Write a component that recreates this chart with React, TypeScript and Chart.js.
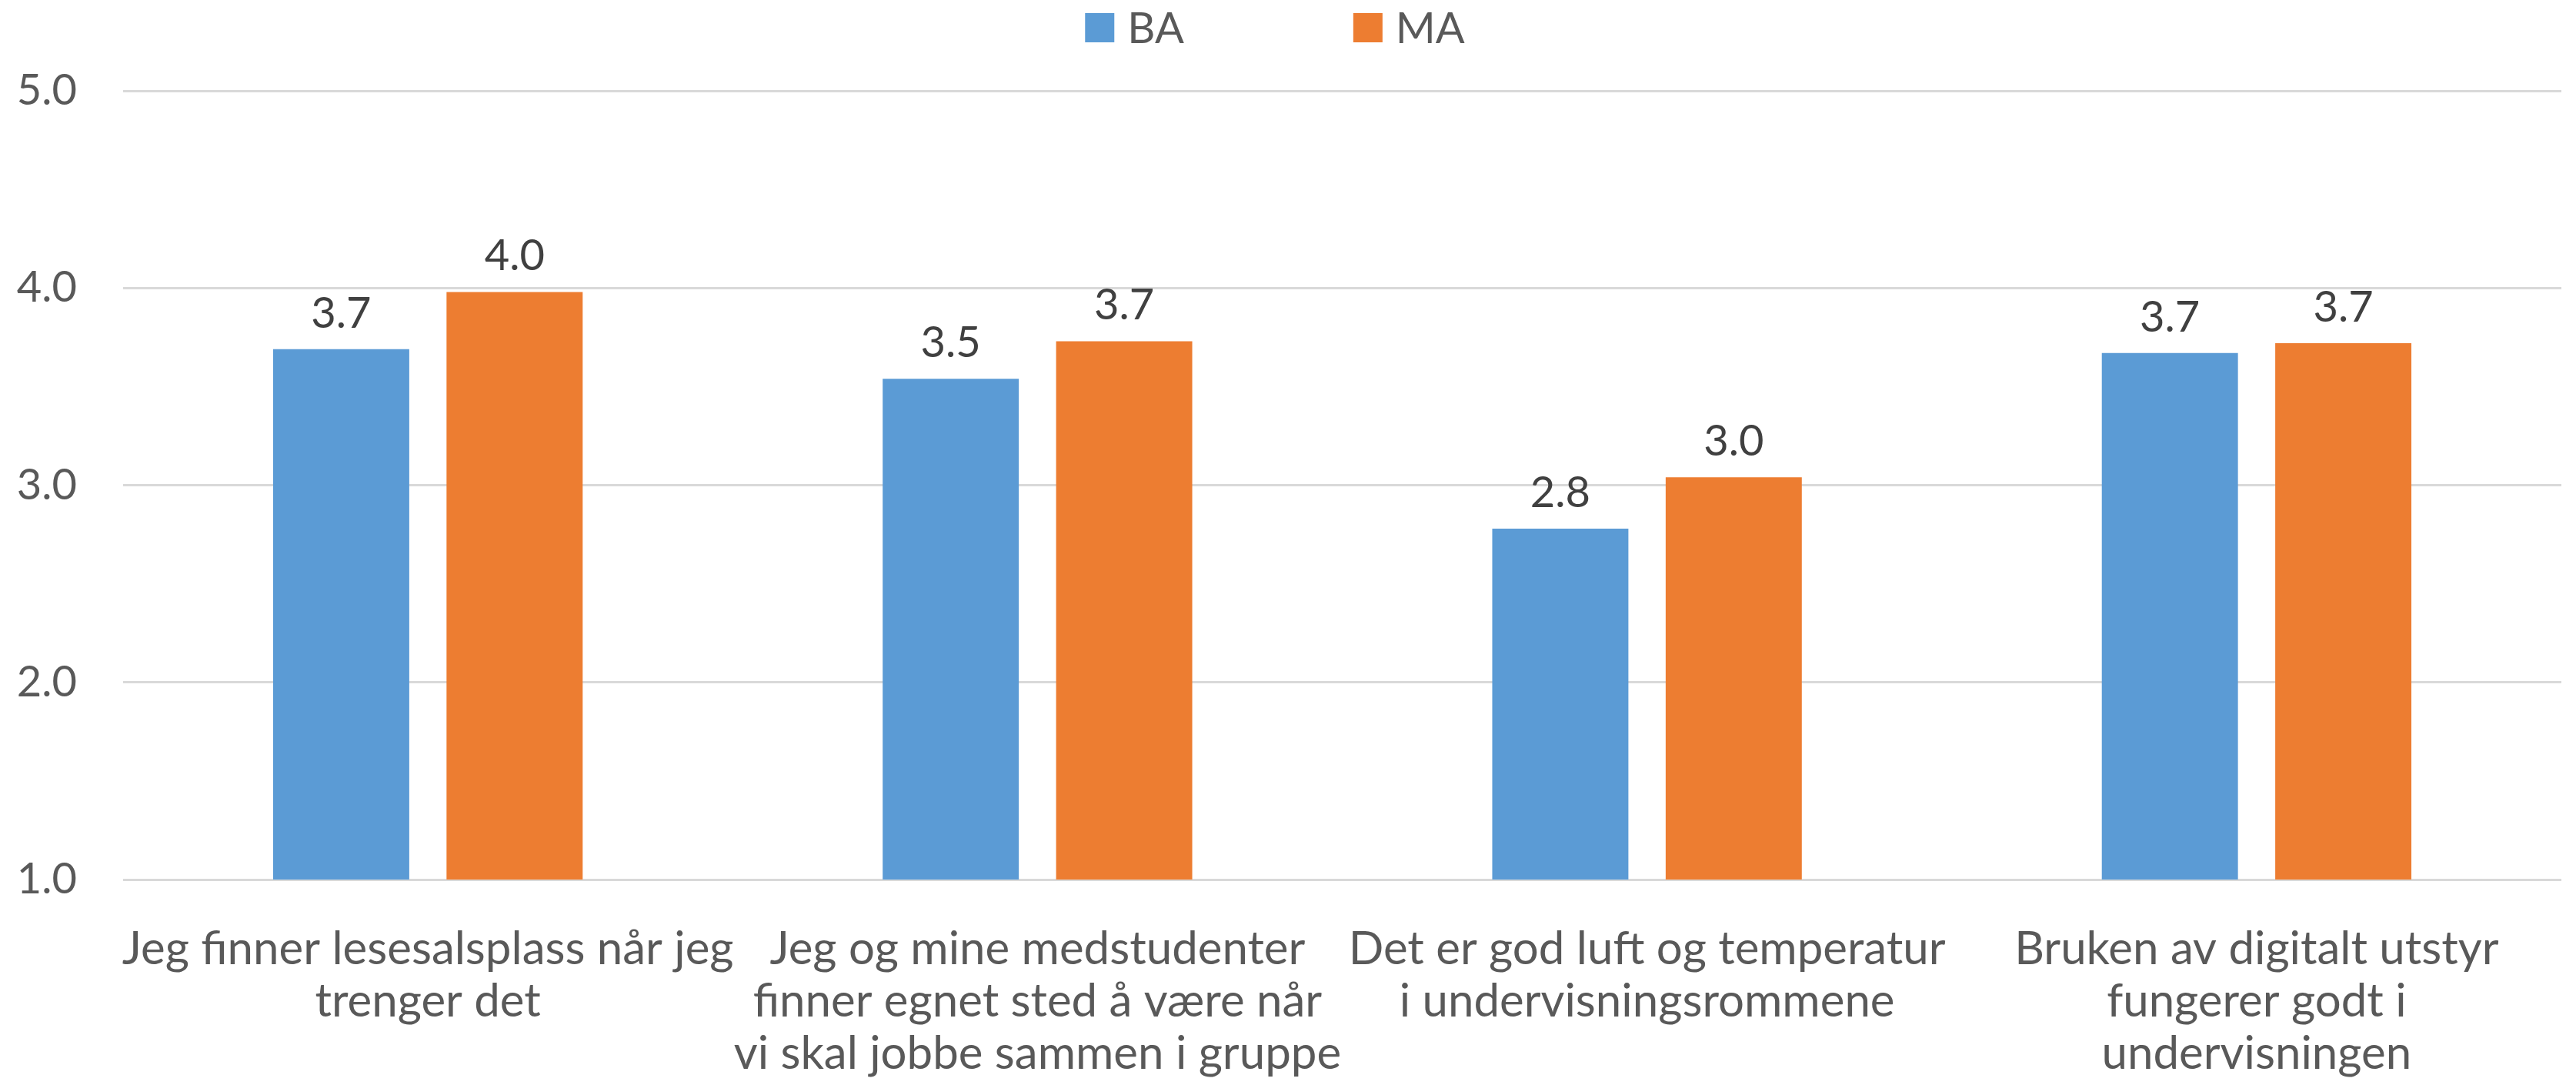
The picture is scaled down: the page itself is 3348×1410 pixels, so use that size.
import React, { useEffect, useRef } from "react";
import { Chart, registerables } from "chart.js";

Chart.register(...registerables);

const categories: string[][] = [
  ["Jeg finner lesesalsplass når jeg", "trenger det"],
  ["Jeg og mine medstudenter", "finner egnet sted å være når", "vi skal jobbe sammen i gruppe"],
  ["Det er god luft og temperatur", "i undervisningsrommene"],
  ["Bruken av digitalt utstyr", "fungerer godt i", "undervisningen"],
];
const seriesNames = ["BA", "MA"];
const baValues = [3.69, 3.54, 2.78, 3.67];
const maValues = [3.98, 3.73, 3.04, 3.72];
const yMin = 1;
const yMax = 5;
const yStep = 1;

const FONT = "Lato, 'Open Sans', sans-serif";
const BLUE = "#5B9BD5";
const ORANGE = "#ED7D31";

const valueLabels = {
  id: "valueLabels",
  afterDatasetsDraw(chart: any) {
    const ctx = chart.ctx;
    ctx.save();
    ctx.font = `56px ${FONT}`;
    ctx.fillStyle = "#404040";
    ctx.textAlign = "center";
    ctx.textBaseline = "alphabetic";
    chart.data.datasets.forEach((ds: any, i: number) => {
      const meta = chart.getDatasetMeta(i);
      meta.data.forEach((bar: any, j: number) => {
        ctx.fillText(Number(ds.data[j]).toFixed(1), bar.x, bar.y - 28);
      });
    });
    ctx.restore();
  },
};

const topLegend = {
  id: "topLegend",
  afterDraw(chart: any) {
    const ctx = chart.ctx;
    ctx.save();
    ctx.font = `56px ${FONT}`;
    const box = 38;
    const boxGap = 17;
    const itemGap = 220;
    const items = chart.data.datasets.map((ds: any) => ({
      label: ds.label as string,
      color: ds.backgroundColor as string,
      w: box + boxGap + ctx.measureText(ds.label).width,
    }));
    const total = items.reduce((s: number, it: any) => s + it.w, 0) + itemGap * (items.length - 1);
    let x = 1657 - total / 2;
    const cy = 36;
    ctx.textBaseline = "middle";
    ctx.textAlign = "left";
    items.forEach((it: any) => {
      ctx.fillStyle = it.color;
      ctx.fillRect(x, cy - box / 2, box, box);
      ctx.fillStyle = "#595959";
      ctx.fillText(it.label, x + box + boxGap, cy + 2);
      x += it.w + itemGap;
    });
    ctx.restore();
  },
};

export default function App() {
  const ref = useRef<HTMLCanvasElement | null>(null);
  useEffect(() => {
    if (!ref.current) return;
    const chart = new Chart(ref.current, {
      type: "bar",
      data: {
        labels: categories,
        datasets: [
          {
            label: seriesNames[0],
            data: baValues,
            backgroundColor: BLUE,
            categoryPercentage: 0.569,
            barPercentage: 0.785,
          },
          {
            label: seriesNames[1],
            data: maValues,
            backgroundColor: ORANGE,
            categoryPercentage: 0.569,
            barPercentage: 0.785,
          },
        ],
      },
      options: {
        responsive: false,
        animation: false,
        devicePixelRatio: 1,
        layout: { padding: { top: 118, right: 19, left: 0, bottom: 0 } },
        plugins: {
          legend: { display: false },
          tooltip: { enabled: false },
        },
        scales: {
          x: {
            grid: { display: false, drawTicks: false },
            border: { display: false },
            ticks: {
              color: "#595959",
              font: { family: FONT, size: 60, lineHeight: 68 / 60 },
              padding: 57,
              maxRotation: 0,
              autoSkip: false,
            },
            afterFit: (scale: any) => {
              scale.height = 267;
            },
          },
          y: {
            min: yMin,
            max: yMax,
            grid: { color: "#d9d9d9", lineWidth: 3, drawTicks: false },
            border: { display: false },
            ticks: {
              stepSize: yStep,
              color: "#595959",
              font: { family: FONT, size: 56 },
              padding: 60,
              callback: (v: any) => Number(v).toFixed(1),
            },
            afterFit: (scale: any) => {
              scale.width = 160;
            },
          },
        },
      },
      plugins: [valueLabels, topLegend],
    });
    return () => chart.destroy();
  }, []);
  return (
    <div style={{ position: "absolute", left: 0, top: 0, width: 3348, height: 1410, background: "#fff" }}>
      <canvas ref={ref} width={3348} height={1410} style={{ display: "block" }} />
    </div>
  );
}
